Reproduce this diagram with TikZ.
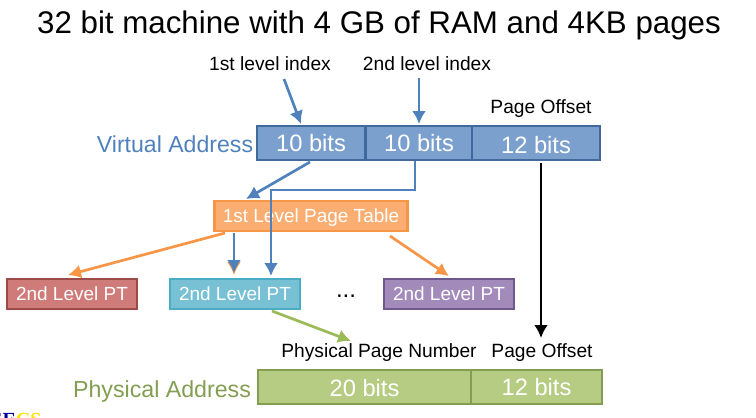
\documentclass[tikz,border=0pt]{standalone}
\usepackage{fontspec}
\setmainfont{Liberation Sans}
\newfontfamily\logofont{Liberation Serif}
\usetikzlibrary{arrows.meta}
\definecolor{bluefill}{HTML}{7BA0CD}
\definecolor{blueline}{HTML}{41699B}
\definecolor{bluearrow}{HTML}{4F81BD}
\definecolor{orangefill}{HTML}{FAAE71}
\definecolor{orangeline}{HTML}{F79646}
\definecolor{redfill}{HTML}{CF7B79}
\definecolor{redline}{HTML}{9E4A48}
\definecolor{tealfill}{HTML}{78C0D4}
\definecolor{tealline}{HTML}{4BACC6}
\definecolor{purplefill}{HTML}{A28BBA}
\definecolor{purpleline}{HTML}{6F5890}
\definecolor{greenfill}{HTML}{B5CC82}
\definecolor{greenline}{HTML}{839E51}
\definecolor{greenarrow}{HTML}{9BBB59}
\tikzset{field/.style={draw,line width=2.6pt,text=white,font=\fontsize{23.7}{24}\selectfont,minimum height=34pt,inner sep=0pt},
  ptbox/.style={draw,line width=2.6pt,text=white,font=\fontsize{19}{19}\selectfont,minimum width=130pt,minimum height=30pt,inner sep=0pt,text depth=0pt},
  lbl/.style={inner sep=0pt,font=\fontsize{19.2}{19}\selectfont},
  arr/.style={-{Latex[length=13pt,width=14pt]},line width=2.7pt}}
\begin{document}
\begin{tikzpicture}[x=1pt,y=-1pt]
\useasboundingbox (0,0) rectangle (756,418);
\node[inner sep=0pt,font=\fontsize{31.3}{32}\selectfont] (title) at (379,25) {32 bit machine with 4 GB of RAM and 4KB pages};
\node[lbl] (idxa) at (270,64) {1st level index};
\node[lbl] (idxb) at (427,64) {2nd level index};
\node[lbl] (offv) at (541,109) {Page Offset};
\node[inner sep=0pt,text=bluearrow,font=\fontsize{23.1}{23}\selectfont] (vaddr) at (175,144) {Virtual Address};
\node[field,draw=blueline,fill=bluefill,minimum width=108pt] (bita) at (311,143) {10 bits};
\node[field,draw=blueline,fill=bluefill,minimum width=106pt] (bitb) at (419,143) {10 bits};
\node[field,draw=blueline,fill=bluefill,minimum width=128pt,text height=21pt,text depth=0pt] (bitc) at (536,143) {12 bits};
\node[ptbox,draw=orangeline,fill=orangefill,minimum width=193pt] (tbl) at (311,216) {1st Level Page Table};
\node[ptbox,draw=redline,fill=redfill] (pta) at (72,294) {2nd Level PT};
\node[ptbox,draw=tealline,fill=tealfill] (ptb) at (235,294) {2nd Level PT};
\node[ptbox,draw=purpleline,fill=purplefill] (ptc) at (449,294) {2nd Level PT};
\node[inner sep=0pt,font=\fontsize{24}{24}\selectfont] (dots) at (346,296) {...};
\node[lbl] (ppn) at (379,353) {Physical Page Number};
\node[lbl] (offp) at (542,353) {Page Offset};
\node[inner sep=0pt,text=greenline,font=\fontsize{23.2}{23}\selectfont] (paddr) at (162,391) {Physical Address};
\node[field,draw=greenline,fill=greenfill,minimum width=213pt,text height=19pt,text depth=0pt] (bitd) at (364.5,387) {20 bits};
\node[field,draw=greenline,fill=greenfill,minimum width=131pt] (bite) at (536.5,387) {12 bits};
\node[inner sep=0pt,anchor=west,font=\logofont\bfseries\fontsize{20}{20}\selectfont] (logo) at (-11,420) {\textcolor{blue!60!black}{EE}\textcolor{yellow!85!orange}{CS}};
\coordinate (a1) at (284,79);
\coordinate (a2) at (301,124);
\coordinate (b1) at (419,78);
\coordinate (b2) at (419,124);
\coordinate (c1) at (310,162);
\coordinate (c2) at (246,199);
\coordinate (d1) at (415,161);
\coordinate (d2) at (271,276);
\coordinate (e1) at (234,233);
\coordinate (e2) at (234,275);
\coordinate (f1) at (225,233);
\coordinate (f2) at (68,275);
\coordinate (g1) at (390,236);
\coordinate (g2) at (449,276);
\coordinate (h1) at (272,311);
\coordinate (h2) at (351,341);
\coordinate (k1) at (541,163);
\coordinate (k2) at (541,338);
\draw[arr,orangeline] (f1) -- (f2);
\draw[arr,orangeline] (g1) -- (g2);
\draw[arr,orangeline] (e1) -- (e2);
\draw[arr,bluearrow,shorten >=2pt] (e1) -- (e2);
\draw[arr,bluearrow] (a1) -- (a2);
\draw[arr,bluearrow] (b1) -- (b2);
\draw[arr,bluearrow] (c1) -- (c2);
\draw[arr,bluearrow] (d1) |- (271,190) -- (d2);
\draw[arr,greenarrow] (h1) -- (h2);
\draw[arr,black] (k1) -- (k2);
\end{tikzpicture}
\end{document}
